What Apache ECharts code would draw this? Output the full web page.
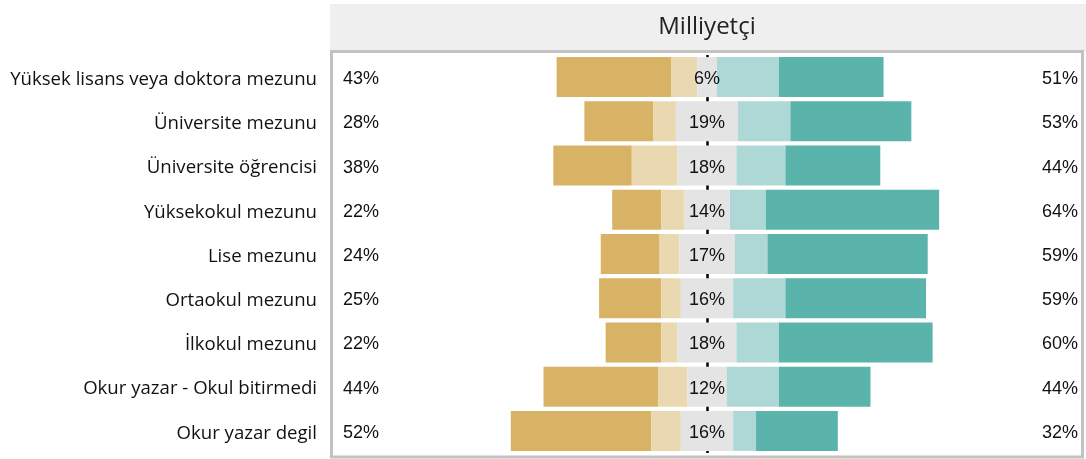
<!DOCTYPE html>
<html>
<head>
<meta charset="utf-8">
<script src="https://cdn.jsdelivr.net/npm/echarts@6/dist/echarts.min.js"></script>
<style>
  html, body { margin: 0; padding: 0; background: #ffffff; }
  #chart { width: 1086px; height: 459px; }
</style>
</head>
<body>
<div id="chart"></div>
<script>
// Education groups, top to bottom
const categories = [
  'Yüksek lisans veya doktora mezunu',
  'Üniversite mezunu',
  'Üniversite öğrencisi',
  'Yüksekokul mezunu',
  'Lise mezunu',
  'Ortaokul mezunu',
  'İlkokul mezunu',
  'Okur yazar - Okul bitirmedi',
  'Okur yazar degil'
];

// Response shares (%) per group, from most negative to most positive
const stronglyDisagree = [35, 21, 24, 15, 18, 19, 17, 35, 43];
const disagree         = [ 8,  7, 14,  7,  6,  6,  5,  9,  9];
const neutral          = [ 6, 19, 18, 14, 17, 16, 18, 12, 16];
const agree            = [19, 16, 15, 11, 10, 16, 13, 16,  7];
const stronglyAgree    = [32, 37, 29, 53, 49, 43, 47, 28, 25];

const panelTitle = 'Milliyetçi';

const colors = {
  stronglyDisagree: '#d8b365',
  disagree: '#ead9b0',
  neutral: '#e4e4e4',
  agree: '#add8d6',
  stronglyAgree: '#5ab4ac'
};

// Derived: totals on each side, and where each bar starts (left of zero)
const leftTotal = categories.map((_, i) => stronglyDisagree[i] + disagree[i]);
const rightTotal = categories.map((_, i) => agree[i] + stronglyAgree[i]);
const startOffset = categories.map((_, i) => -(leftTotal[i] + neutral[i] / 2));

const X_MIN = -115, X_MAX = 115;
const LEFT_LABEL_X = -111.3;
const RIGHT_LABEL_X = 113.5;

const pctFont = 'Liberation Sans, Arial, sans-serif';
const textColor = '#111111';

function stackBar(name, data, color) {
  return {
    name: name,
    type: 'bar',
    stack: 'likert',
    stackStrategy: 'all',
    barWidth: 40,
    z: 2,
    silent: true,
    itemStyle: { color: color, borderWidth: 0 },
    data: data
  };
}

function labelSeries(name, points, position, fmt) {
  return {
    name: name,
    type: 'scatter',
    symbolSize: 0,
    silent: true,
    z: 5,
    itemStyle: { opacity: 1 },
    data: points,
    label: {
      show: true,
      position: position,
      distance: 0,
      offset: [0, 2],
      formatter: fmt,
      fontFamily: pctFont,
      fontSize: 18,
      color: textColor
    }
  };
}

const chart = echarts.init(document.getElementById('chart'), null, { renderer: 'canvas' });

const option = {
  backgroundColor: '#ffffff',
  animation: false,
  graphic: [
    {
      type: 'rect',
      z: 0,
      shape: { x: 330, y: 4, width: 756, height: 47 },
      style: { fill: '#efefef' }
    },
    {
      type: 'text',
      z: 1,
      style: {
        x: 707, y: 27.5,
        text: panelTitle,
        fill: '#222222',
        font: '24px "Open Sans", sans-serif',
        textAlign: 'center',
        textVerticalAlign: 'middle'
      }
    },
    {
      type: 'rect',
      z: 10,
      shape: { x: 331.5, y: 51.5, width: 751, height: 405.5 },
      style: { fill: 'none', stroke: '#c2c2c2', lineWidth: 3 }
    }
  ],
  grid: { left: 331, right: 3, top: 55, bottom: 6 },
  xAxis: {
    type: 'value',
    min: X_MIN,
    max: X_MAX,
    show: false
  },
  yAxis: {
    type: 'category',
    inverse: true,
    data: categories,
    axisLine: { show: false },
    axisTick: { show: false },
    splitLine: { show: false },
    axisLabel: {
      margin: 14,
      formatter: v => '{c|' + v + '}',
      rich: {
        c: {
          fontFamily: '"Open Sans", sans-serif',
          fontSize: 18.6,
          color: textColor,
          padding: [5, 0, 0, 0]
        }
      }
    }
  },
  series: [
    {
      name: 'zero',
      type: 'scatter',
      data: [],
      z: 1,
      markLine: {
        silent: true,
        z: 1,
        symbol: ['none', 'none'],
        label: { show: false },
        lineStyle: { color: '#000000', width: 2.5, type: 'solid' },
        data: [{ xAxis: 0 }]
      }
    },
    {
      name: 'offset',
      type: 'bar',
      stack: 'likert',
      stackStrategy: 'all',
      barWidth: 40,
      silent: true,
      itemStyle: { color: 'rgba(0,0,0,0)' },
      data: startOffset
    },
    stackBar('Kesinlikle katılmıyorum', stronglyDisagree, colors.stronglyDisagree),
    stackBar('Katılmıyorum', disagree, colors.disagree),
    stackBar('Kararsızım', neutral, colors.neutral),
    stackBar('Katılıyorum', agree, colors.agree),
    stackBar('Kesinlikle katılıyorum', stronglyAgree, colors.stronglyAgree),
    labelSeries('left', categories.map((c, i) => [LEFT_LABEL_X, i, leftTotal[i]]), 'right',
      p => p.value[2] + '%'),
    labelSeries('mid', categories.map((c, i) => [0, i, neutral[i]]), 'inside',
      p => p.value[2] + '%'),
    labelSeries('right', categories.map((c, i) => [RIGHT_LABEL_X, i, rightTotal[i]]), 'left',
      p => p.value[2] + '%')
  ]
};

chart.setOption(option);
</script>
</body>
</html>
